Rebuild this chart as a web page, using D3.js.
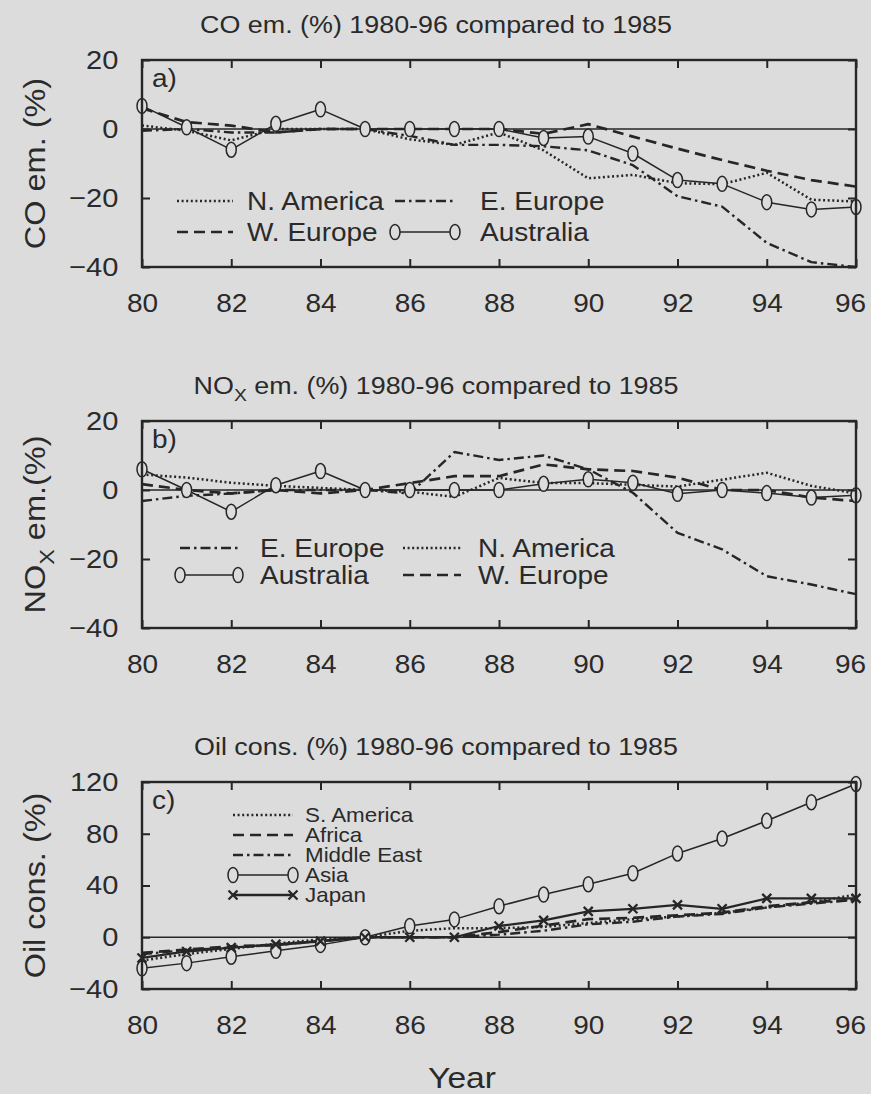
<!DOCTYPE html>
<html>
<head>
<meta charset="utf-8">
<script src="https://cdn.jsdelivr.net/npm/d3@7"></script>
<style>
  body { margin: 0; background: #dcdcdc; }
  svg { display: block; }
  text { font-family: "Liberation Sans", Arial, sans-serif; fill: #2a2a2a; }
</style>
</head>
<body>
<div id="chart"></div>
<script>
// ---- data ----
const years = [80, 81, 82, 83, 84, 85, 86, 87, 88, 89, 90, 91, 92, 93, 94, 95, 96];
const xTickYears = [80, 82, 84, 86, 88, 90, 92, 94, 96];

// a) CO emissions, % relative to 1985
const coNAmerica  = [1, -0.5, -3.3, 0, 0, 0, -3, -4.6, -1, -6.2, -14.3, -13.3, -15.7, -16, -12.7, -20.5, -21];
const coWEurope   = [6, 2, 1, -1, 0, 0, 0, 0, 0, -1.4, 1.4, -2.2, -5.7, -9, -12.1, -14.8, -16.7];
const coEEurope   = [-0.5, 0, -1, -1, 0, 0, -2, -4.6, -4.6, -5, -6.2, -10.5, -19.5, -22.5, -33, -38.6, -40];
const coAustralia = [6.7, 0.5, -6, 1.5, 5.7, 0, 0, 0, 0, -2.6, -2.2, -7.1, -14.8, -15.9, -21.2, -23.3, -22.6];
const coTicks = [20, 0, -20, -40];

// b) NOx emissions, % relative to 1985
const noxEEurope   = [-3.2, -1.7, -1, 0, 0, 0, -1, 11, 8.7, 10, 6, -0.8, -12.4, -17.2, -25, -27.4, -30.2];
const noxNAmerica  = [4.5, 3.6, 2.1, 1.2, 0.6, 0, -0.5, -2, 3.5, 2, 2, 1.5, 1, 3, 5, 1.2, -1];
const noxWEurope   = [1.7, 0, -1, 0, -1, 0, 2, 4, 4, 7.4, 6, 5.5, 3.6, 0, 0, -2.2, -3.2];
const noxAustralia = [6, 0, -6.3, 1.4, 5.5, 0, 0, 0, 0, 1.8, 3.1, 2.1, -1.1, 0, -0.9, -2.2, -1.5];
const noxTicks = [20, 0, -20, -40];

// c) Oil consumption, % relative to 1985
const oilSAmerica  = [-18, -13, -9, -5, -1.5, 0, 5, 7, 7, 8, 11, 14, 16, 19, 23, 27, 33];
const oilAfrica    = [-12, -9.5, -7, -6, -3, 0, 0, 0, 4, 9, 14, 15, 17, 19, 24, 27, 29];
const oilMidEast   = [-13, -10, -8, -6, -3, 0, 0, 0, 2, 5, 10, 12, 16, 18, 23, 26, 29];
const oilAsia      = [-24, -20, -15, -10.5, -5.9, 0, 8.7, 13.8, 24, 33, 41, 49.5, 64.8, 76.3, 90, 104.4, 118.5];
const oilJapan     = [-16, -11, -8, -5.5, -3, 0, 0, 0, 8.7, 13, 20, 22, 25, 22, 30, 30, 30];
const oilTicks = [120, 80, 40, 0, -40];

// ---- look ----
const INK = "#262626";
const BG = "#dcdcdc";
const SX = 1.12;          // the scanned typeface runs a bit wide
const plotH = 207;

const lineStyles = {
    dotted:  {dash: "2,2.6", width: 2.5},
    dashed:  {dash: "11,6", width: 2.7},
    dashdot: {dash: "10,4,2.5,4", width: 2.4},
    circle:  {dash: null, width: 1.5, marker: "circle"},
    cross:   {dash: null, width: 2.3, marker: "cross"}
};

const panels = [
    {
        top: 60, domain: [-40, 20], ticks: coTicks, tag: "a)",
        title: [{t: "CO em. (%) 1980-96 compared to 1985"}],
        ylabel: [{t: "CO em. (%)"}],
        legend: {cols: [[177, 233, 247], [395, 455, 480]], rows: [201, 232], size: 25},
        series: [
            {name: "N. America", values: coNAmerica, style: "dotted", col: 0, row: 0},
            {name: "W. Europe", values: coWEurope, style: "dashed", col: 0, row: 1},
            {name: "E. Europe", values: coEEurope, style: "dashdot", col: 1, row: 0},
            {name: "Australia", values: coAustralia, style: "circle", col: 1, row: 1}
        ]
    },
    {
        top: 421, domain: [-40, 20], ticks: noxTicks, tag: "b)",
        title: [{t: "NO"}, {t: "X", sub: true}, {t: " em. (%) 1980-96 compared to 1985"}],
        ylabel: [{t: "NO"}, {t: "X", sub: true}, {t: " em.(%)"}],
        legend: {cols: [[180, 238, 260], [403, 461, 478]], rows: [548, 575], size: 25},
        series: [
            {name: "E. Europe", values: noxEEurope, style: "dashdot", col: 0, row: 0},
            {name: "Australia", values: noxAustralia, style: "circle", col: 0, row: 1},
            {name: "N. America", values: noxNAmerica, style: "dotted", col: 1, row: 0},
            {name: "W. Europe", values: noxWEurope, style: "dashed", col: 1, row: 1}
        ]
    },
    {
        top: 782, domain: [-40, 120], ticks: oilTicks, tag: "c)",
        title: [{t: "Oil cons. (%) 1980-96 compared to 1985"}],
        ylabel: [{t: "Oil cons. (%)"}],
        legend: {cols: [[233, 293, 305]], rows: [815, 835, 855, 875, 895], size: 20},
        series: [
            {name: "S. America", values: oilSAmerica, style: "dotted", col: 0, row: 0},
            {name: "Africa", values: oilAfrica, style: "dashed", col: 0, row: 1},
            {name: "Middle East", values: oilMidEast, style: "dashdot", col: 0, row: 2},
            {name: "Asia", values: oilAsia, style: "circle", col: 0, row: 3},
            {name: "Japan", values: oilJapan, style: "cross", col: 0, row: 4}
        ]
    }
];

// ---- drawing ----
const width = 871, height = 1094;
const svg = d3.select("#chart").append("svg")
    .attr("width", width)
    .attr("height", height);

svg.append("rect").attr("width", width).attr("height", height).attr("fill", BG);

const x = d3.scaleLinear().domain([80, 96]).range([142, 856]);

// text with the slightly stretched face
function addText(g, px, py, size, anchor, rot) {
    return g.append("text")
        .attr("transform", `translate(${px},${py})` + (rot ? ` rotate(${rot})` : "") + ` scale(${SX},1)`)
        .attr("font-size", size)
        .attr("text-anchor", anchor || "start");
}

// pieces like NO + subscript X
function addParts(text, parts, size) {
    const shift = size * 0.3;
    let down = false;
    parts.forEach(p => {
        const ts = text.append("tspan").text(p.t);
        if (p.sub) {
            ts.attr("font-size", size * 0.72).attr("dy", shift);
            down = true;
        } else if (down) {
            ts.attr("dy", -shift);
            down = false;
        }
    });
}

function strokeStyle(sel, st) {
    sel.attr("fill", "none")
        .attr("stroke", INK)
        .attr("stroke-width", st.width)
        .attr("stroke-dasharray", st.dash)
        .attr("stroke-linejoin", "round");
}

function markers(g, kind, pts) {
    if (kind === "circle") {
        g.selectAll(null).data(pts).join("ellipse")
            .attr("cx", d => d[0]).attr("cy", d => d[1])
            .attr("rx", 5).attr("ry", 7.5)
            .attr("fill", BG).attr("stroke", INK).attr("stroke-width", 1.5);
    } else if (kind === "cross") {
        g.selectAll(null).data(pts).join("path")
            .attr("d", d => `M${d[0] - 4.5},${d[1] - 4.5}L${d[0] + 4.5},${d[1] + 4.5}M${d[0] - 4.5},${d[1] + 4.5}L${d[0] + 4.5},${d[1] - 4.5}`)
            .attr("stroke", INK).attr("stroke-width", 2.3);
    }
}

function drawPanel(p) {
    const y = d3.scaleLinear().domain(p.domain).range([p.top + plotH, p.top]);
    const g = svg.append("g").style("color", INK);

    // title
    addParts(addText(g, 436, p.top - 27, 24, "middle"), p.title, 24);

    // y label
    addParts(addText(g, 45, p.top + plotH / 2, 29, "middle", -90), p.ylabel, 29);

    // zero line
    g.append("line")
        .attr("x1", x(80)).attr("x2", x(96))
        .attr("y1", y(0)).attr("y2", y(0))
        .attr("stroke", INK).attr("stroke-width", 1.6);

    // series lines
    const line = d3.line()
        .x((d, i) => x(years[i]))
        .y(d => y(d));

    p.series.forEach(s => {
        g.append("path").datum(s.values).attr("d", line).call(strokeStyle, lineStyles[s.style]);
    });
    p.series.forEach(s => {
        const st = lineStyles[s.style];
        if (st.marker) markers(g, st.marker, s.values.map((v, i) => [x(years[i]), y(v)]));
    });

    // frame
    g.append("rect")
        .attr("x", x(80)).attr("y", p.top)
        .attr("width", x(96) - x(80)).attr("height", plotH)
        .attr("fill", "none").attr("stroke", INK).attr("stroke-width", 2.4);

    // axes, ticks pointing inward
    const bottom = g.append("g").attr("transform", `translate(0,${p.top + plotH})`)
        .call(d3.axisBottom(x).tickValues(xTickYears).tickSizeInner(-8).tickSizeOuter(0).tickPadding(27).tickFormat(d => d));
    const top = g.append("g").attr("transform", `translate(0,${p.top})`)
        .call(d3.axisTop(x).tickValues(xTickYears).tickSizeInner(-8).tickSizeOuter(0).tickFormat(""));
    const left = g.append("g").attr("transform", `translate(${x(80)},0)`)
        .call(d3.axisLeft(y).tickValues(p.ticks).tickSizeInner(-8).tickSizeOuter(0).tickPadding(21).tickFormat(d3.format("d")));
    const right = g.append("g").attr("transform", `translate(${x(96)},0)`)
        .call(d3.axisRight(y).tickValues(p.ticks).tickSizeInner(-8).tickSizeOuter(0).tickFormat(""));

    [bottom, top, left, right].forEach(a => {
        a.select(".domain").remove();
        a.selectAll(".tick line").attr("stroke-width", 2);
    });
    // the last year label sits a little in from the right edge, as in the scan
    bottom.selectAll("text")
        .attr("font-size", 25)
        .attr("transform", d => (d === 96 ? "translate(-6,0) " : "") + `scale(${SX},1)`);
    left.selectAll("text").attr("font-size", 26).attr("transform", `scale(${SX},1)`);

    // panel tag
    addText(g, x(80) + 10, p.top + 27, 25).text(p.tag);

    // legend
    const L = p.legend;
    p.series.forEach(s => {
        const c = L.cols[s.col], ly = L.rows[s.row];
        const st = lineStyles[s.style];
        g.append("line")
            .attr("x1", c[0]).attr("x2", c[1])
            .attr("y1", ly).attr("y2", ly)
            .call(strokeStyle, st);
        if (st.marker) markers(g, st.marker, [[c[0], ly], [c[1], ly]]);
        addText(g, c[2], ly + L.size * 0.36, L.size).text(s.name);
    });
}

panels.forEach(drawPanel);

// shared x label
addText(svg, 462, 1088, 30, "middle").text("Year");
</script>
</body>
</html>
